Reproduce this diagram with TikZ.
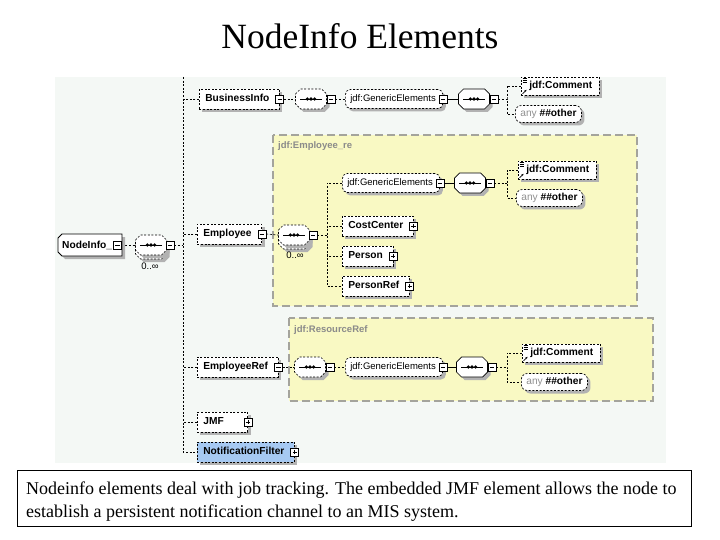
\documentclass[tikz,border=0pt]{standalone}
\usepackage{fontspec}
\setmainfont{Liberation Serif}
\setsansfont{Liberation Sans}
\usetikzlibrary{shadows,arrows.meta,calc}
\definecolor{bgc}{HTML}{F4F8F5}
\definecolor{yel}{HTML}{F9F9C3}
\definecolor{ybord}{HTML}{A4A49C}
\definecolor{shd}{HTML}{B2B2B2}
\definecolor{nfblue}{HTML}{A6C9F2}
\definecolor{lbl}{HTML}{8A8A8A}
\definecolor{anyc}{HTML}{909090}
\newcommand\bfnt{\sffamily\bfseries\fontsize{10.2}{12}\selectfont}
\newcommand\rfnt{\sffamily\fontsize{9.5}{11}\selectfont}
\pgfdeclarelayer{back}
\pgfdeclarelayer{lines}
\pgfsetlayers{back,lines,main}
\tikzset{
  conn/.style={line width=0.7pt,dash pattern=on 2pt off 1.6pt},
  sconn/.style={line width=0.7pt},
  dsh/.style={line width=0.7pt,dash pattern=on 2pt off 1.6pt},
  shad/.style={drop shadow={shadow xshift=3pt,shadow yshift=-3pt,fill=shd,opacity=1}},
  elem/.style={draw,dsh,fill=white,shad,rectangle,anchor=west,minimum height=20pt,inner ysep=0pt,inner xsep=6pt,font=\bfnt,text height=7.4pt,text depth=1.8pt,execute at end node={\hspace*{4pt}}},
  gen/.style={draw,dsh,fill=white,shad,rectangle,rounded corners=5pt,anchor=west,minimum height=19pt,inner ysep=0pt,inner xsep=5pt,font=\rfnt,text height=7pt,text depth=1.8pt,execute at end node={\hspace*{2pt}}},
  cmt/.style={draw,dsh,fill=white,shad,rectangle,anchor=west,minimum height=18pt,inner ysep=0pt,inner xsep=7pt,font=\bfnt,text height=7.4pt,text depth=1.8pt,execute at begin node={\hspace*{1pt}}},
  anyb/.style={draw,dsh,fill=white,shad,rectangle,rounded corners=6pt,anchor=west,minimum height=17pt,inner ysep=0pt,inner xsep=5pt,font=\bfnt,text height=7.4pt,text depth=1.8pt},
  pm/.style={draw,fill=white,minimum size=8pt,inner sep=0pt,line width=0.6pt},
  minusb/.style={pm,path picture={\draw[line width=0.6pt] ([xshift=1.8pt]path picture bounding box.west) -- ([xshift=-1.8pt]path picture bounding box.east);}},
  plusb/.style={pm,path picture={\draw[line width=0.6pt] ([xshift=1.8pt]path picture bounding box.west) -- ([xshift=-1.8pt]path picture bounding box.east) ([yshift=-1.8pt]path picture bounding box.north) -- ([yshift=1.8pt]path picture bounding box.south);}},
  ybox/.style={fill=yel,draw=ybord,line width=1.1pt,dash pattern=on 8pt off 4pt},
  ylabel/.style={anchor=west,inner sep=0pt,font=\sffamily\bfseries\fontsize{9.5}{11}\selectfont,text=lbl},
  occ/.style={anchor=center,inner sep=0pt,font=\rfnt},
}
\newcommand\octo[1]{\path[#1] (-15.5,-5) -- (-10.5,-10) -- (10.5,-10) -- (15.5,-5) -- (15.5,5) -- (10.5,10) -- (-10.5,10) -- (-15.5,5) -- cycle;}
% #1 name, #2 x, #3 y, #4 border style, #5 multi
\newcommand\seqc[5]{%
  \begin{scope}[shift={(#2,#3)}]
    \ifnum#5=1
      \octo{fill=shd,shift={(3,7)}}
      \octo{draw,fill=white,#4,shift={(0,4)}}
    \fi
    \octo{fill=shd,shift={(3,3)}}
    \octo{draw,fill=white,#4}
    \draw[line width=0.9pt] (-11,0) -- (11,0);
    \fill (-3.6,0) circle (1.8pt) (0,0) circle (1.8pt) (3.6,0) circle (1.8pt);
  \end{scope}
  \node[inner sep=0pt,minimum width=31pt,minimum height=20pt] (#1) at (#2,#3) {};
}
\newcommand\cmticon[1]{%
  \draw[line width=0.5pt] ($(#1.north west)+(1.5,2)$) -- +(4,0) ($(#1.north west)+(1.5,3.6)$) -- +(4,0) ($(#1.north west)+(1.5,5.2)$) -- +(4,0);
  \draw[line width=0.6pt,-{Stealth[length=2.2pt,width=2.2pt]}] ($(#1.south west)+(1.5,-1.5)$) -- +(4,-4);
}
\begin{document}
\begin{tikzpicture}[x=1pt,y=-1pt]
\begin{pgfonlayer}{back}
  \path[use as bounding box,fill=white] (0,0) rectangle (720,540);
  \fill[bgc] (55,77) rectangle (666,463);
  \path[ybox] (273,135) rectangle (637,306);
  \path[ybox] (289,318) rectangle (653,401);
\end{pgfonlayer}
\node[font=\fontsize{35.5}{40}\selectfont,inner sep=0pt] (title) at (360,36) {NodeInfo Elements};

\node[ylabel] (lab1) at (278,146) {jdf:Employee\_re};
\node[ylabel] (lab2) at (294,330) {jdf:ResourceRef};

% root
\path[fill=shd,shift={(3,3)}] (58,238) -- (62,234) -- (122,234) -- (122,256) -- (62,256) -- (58,252) -- cycle;
\path[draw,fill=white,line width=0.8pt] (58,238) -- (62,234) -- (122,234) -- (122,256) -- (62,256) -- (58,252) -- cycle;
\node[font=\bfnt,anchor=west,inner sep=0pt] (ni) at (62,245) {NodeInfo\_};
\node[minusb] (nim) at (117.5,245) {};
\seqc{s0}{151}{245}{dsh}{1}
\node[minusb] (s0m) at (170,245) {};
\node[occ] (o0) at (150,266) {0..∞};

% BusinessInfo row
\node[elem] (bi) at (199,99) {BusinessInfo};
\node[minusb] (bim) at (bi.east) {};
\seqc{s1}{311}{99}{dsh}{0}
\node[minusb] (s1m) at (331,99) {};
\node[gen] (g1) at (345,99) {jdf:GenericElements};
\node[minusb] (g1m) at (g1.east) {};
\seqc{q1}{474}{99}{sconn}{0}
\node[minusb] (q1m) at (494,99) {};
\coordinate (j1) at (507,99);
\node[cmt] (cm1) at (521,86) {jdf:Comment};
\cmticon{cm1}
\node[anyb] (an1) at (515,114) {\fontseries{m}\selectfont\color{anyc}any \bfseries\color{black}\#\#other};

% Employee row
\node[elem] (em) at (197,234) {Employee};
\node[minusb] (emm) at (em.east) {};
\seqc{s2}{294}{235}{dsh}{1}
\node[minusb] (s2m) at (313,235) {};
\node[occ] (o2) at (295,255) {0..∞};
\coordinate (j2) at (327,235);
\node[gen] (g2) at (342,183) {jdf:GenericElements};
\node[minusb] (g2m) at (g2.east) {};
\seqc{q2}{470}{183}{sconn}{0}
\node[minusb] (q2m) at (490,183) {};
\coordinate (j3) at (507,183);
\node[cmt] (cm2) at (518,170) {jdf:Comment};
\cmticon{cm2}
\node[anyb] (an2) at (516,198) {\fontseries{m}\selectfont\color{anyc}any \bfseries\color{black}\#\#other};
\node[elem] (cc) at (342,226) {CostCenter};
\node[plusb] (ccp) at (cc.east) {};
\node[elem] (pe) at (342,256) {Person};
\node[plusb] (pep) at (pe.east) {};
\node[elem] (pr) at (342,286) {PersonRef};
\node[plusb] (prp) at (pr.east) {};

% EmployeeRef row
\node[elem] (er) at (197,367) {EmployeeRef};
\node[minusb] (erm) at (er.east) {};
\seqc{s3}{310}{367}{dsh}{0}
\node[minusb] (s3m) at (330,367) {};
\node[gen] (g3) at (345,367) {jdf:GenericElements};
\node[minusb] (g3m) at (g3.east) {};
\seqc{q3}{472}{367}{sconn}{0}
\node[minusb] (q3m) at (492,367) {};
\coordinate (j4) at (507,367);
\node[cmt] (cm3) at (522,353) {jdf:Comment};
\cmticon{cm3}
\node[anyb] (an3) at (521,382) {\fontseries{m}\selectfont\color{anyc}any \bfseries\color{black}\#\#other};

\node[elem] (jmf) at (197,422) {JMF\hspace*{14pt}};
\node[plusb] (jmfp) at (jmf.east) {};
\node[elem,fill=nfblue] (nf) at (197,452) {NotificationFilter};
\node[plusb] (nfp) at (nf.east) {};

\coordinate (top) at (183,77);

\begin{pgfonlayer}{lines}
  \draw[conn] (top) |- (nf.west);
  \foreach \n in {bi,em,er,jmf} \draw[conn] (\n.west) -- (\n.west -| top);
  \draw[conn] (nim.east) -- (s0.west);
  \draw[conn] (s0m.east) -- (s0m.east -| top);
  % row 1
  \draw[conn] (bim.east) -- (s1.west);
  \draw[conn] (s1m.east) -- (g1.west);
  \draw[sconn] (g1m.east) -- (q1.west);
  \draw[conn] (q1m.east) -- (j1);
  \draw[conn] (cm1.west) -| (j1) |- (an1.west);
  % row 2
  \draw[conn] (emm.east) -- (s2.west);
  \draw[conn] (s2m.east) -- (j2);
  \draw[conn] (g2.west) -| (j2) |- (pr.west);
  \draw[conn] (cc.west) -- (cc.west -| j2);
  \draw[conn] (pe.west) -- (pe.west -| j2);
  \draw[sconn] (g2m.east) -- (q2.west);
  \draw[conn] (q2m.east) -- (j3);
  \draw[conn] (cm2.west) -| (j3) |- (an2.west);
  % row 3
  \draw[conn] (erm.east) -- (s3.west);
  \draw[conn] (s3m.east) -- (g3.west);
  \draw[sconn] (g3m.east) -- (q3.west);
  \draw[conn] (q3m.east) -- (j4);
  \draw[conn] (cm3.west) -| (j4) |- (an3.west);
\end{pgfonlayer}

% caption
\draw[line width=0.8pt] (17,470) rectangle (691,526);
\node[anchor=base west,inner sep=0pt,font=\fontsize{18}{20}\selectfont] (cap1) at (26,494) {Nodeinfo elements deal with job tracking. The embedded JMF element allows the node to};
\node[anchor=base west,inner sep=0pt,font=\fontsize{18}{20}\selectfont] (cap2) at (26,517) {establish a persistent notification channel to an MIS system.};
\end{tikzpicture}
\end{document}
